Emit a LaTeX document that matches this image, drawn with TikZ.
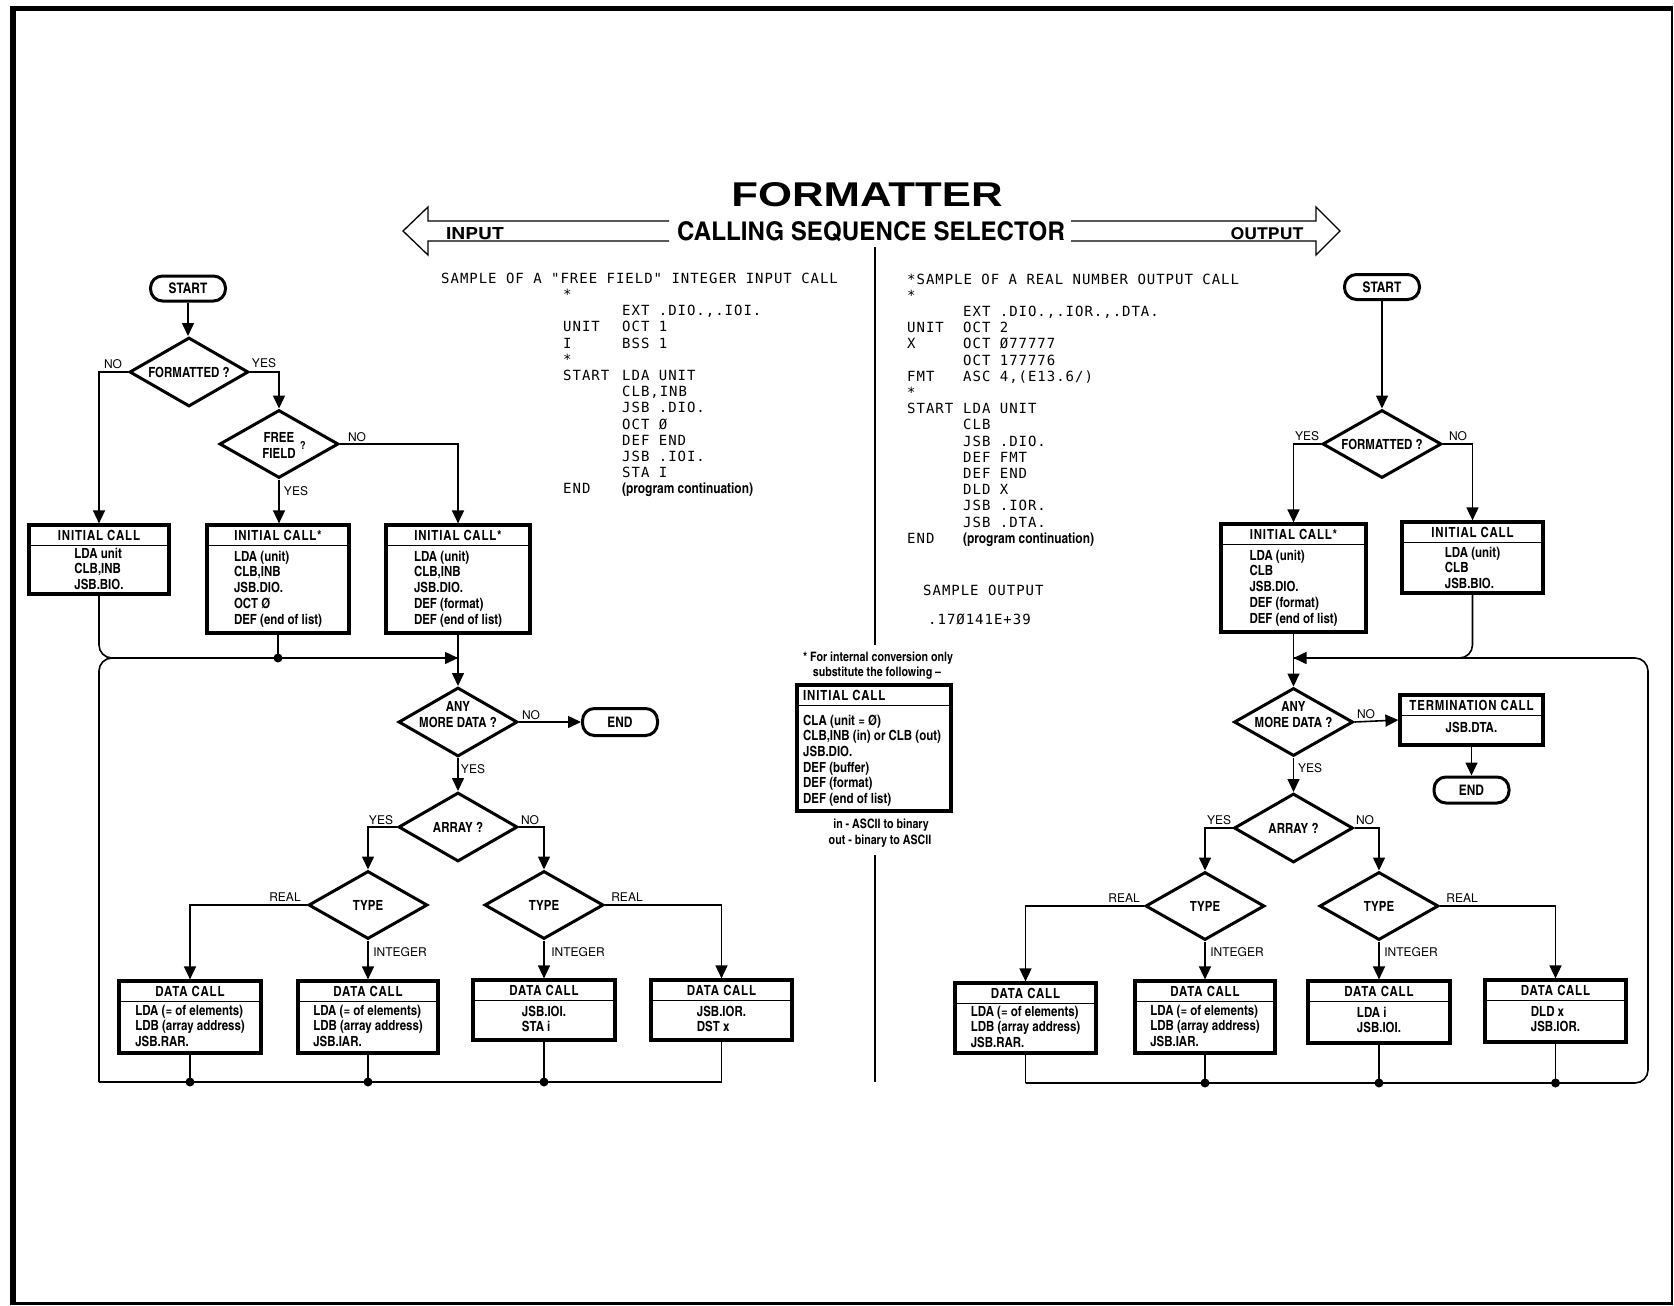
\documentclass[tikz,border=0pt]{standalone}
\usepackage{graphicx}
\usepackage{fontspec}
\usetikzlibrary{shapes.geometric,arrows.meta,fit,calc}
\newfontfamily\cnf{texgyreheroscn}[Extension=.otf,UprightFont=*-regular,BoldFont=*-bold]
\newfontfamily\cnhead{texgyreheroscn}[Extension=.otf,UprightFont=*-bold,LetterSpace=6]
\newfontfamily\hvf{TeX Gyre Heros}
\newfontfamily\monof{DejaVu Sans Mono}[LetterSpace=7]
\newfontfamily\titlef{Liberation Sans}

% call box: name, x1, y1, x2, y2, header, body lines, first baseline offset
\newcommand\callbox[8][35]{%
  \node[cbox, fit={(#3,#4) (#5,#6)}] (#2) {};
  \draw[sep] (#3,{#4+20.5}) -- (#5,{#4+20.5});
  \node[boxhead] (#2-h) at ({(#3+#5)/2},{#4+10.5}) {#7};
  \node[boxbody, anchor=north] (#2-b) at ({(#3+#5)/2},{#4+#1-10.5}) {\rule{0pt}{10.5pt}#8};
}

\begin{document}
\begin{tikzpicture}[x=1pt,y=-1pt,
  cbox/.style={draw,line width=3.2pt,inner sep=0pt},
  sep/.style={line width=1.1pt},
  boxhead/.style={font=\cnhead\fontsize{14}{16}\selectfont,inner sep=0pt},
  boxbody/.style={font=\cnf\bfseries\fontsize{14}{15.7}\selectfont,align=left,inner sep=0pt},
  dia/.style={draw,diamond,line width=3pt,inner sep=0pt,minimum width=119pt,minimum height=69pt},
  dtext/.style={font=\cnf\bfseries\fontsize{14}{16}\selectfont,inner sep=0pt},
  pill/.style={draw,line width=3pt,rounded corners=12pt,minimum width=75pt,minimum height=25pt,inner sep=0pt,font=\cnf\bfseries\fontsize{14.5}{16}\selectfont},
  lab/.style={font=\hvf\fontsize{12}{14}\selectfont,inner sep=0pt},
  note/.style={font=\cnf\bfseries\fontsize{13}{15}\selectfont,inner sep=0pt},
  flow/.style={line width=1.6pt},
  arr/.style={flow,-{Triangle[length=13pt,width=12pt]}},
  dot/.style={circle,fill,inner sep=0pt,minimum size=9pt},
  code/.style={font=\monof\fontsize{14}{16.2}\selectfont,inner sep=0pt},
  outline/.style={line width=1.3pt,line join=miter}
]
\useasboundingbox (0,0) rectangle (1674,1306);
\fill[white] (0,0) rectangle (1674,1306);

% page frame
\draw[line width=6pt] (13,1304) -- (13,6);
\draw[line width=5pt] (10,8.5) -- (1673,8.5);
\draw[line width=2.5pt] (1672,6) -- (1672,1303.5) -- (10,1303.5);

% title and double arrow
\node[inner sep=0pt] (title) at (867,195) {\resizebox{271pt}{24pt}{\titlef\bfseries FORMATTER}};
\node[inner sep=0pt] (subtitle) at (871,231.5) {\resizebox{388pt}{19pt}{\cnf\bfseries CALLING SEQUENCE SELECTOR}};
\node[inner sep=0pt] (inlab) at (475,234) {\resizebox{58pt}{12pt}{\cnf\bfseries INPUT}};
\node[inner sep=0pt] (outlab) at (1267,234) {\resizebox{73pt}{12pt}{\cnf\bfseries OUTPUT}};
\draw[outline] (669,221) -- (428,221) -- (428,207) -- (403,231) -- (428,255) -- (428,241) -- (669,241);
\draw[outline] (1071,221) -- (1316,221) -- (1316,207) -- (1340,231) -- (1316,255) -- (1316,241) -- (1071,241);

% divider
\draw[line width=1.2pt] (875,247) -- (875,645);
\draw[line width=1.2pt] (875,855) -- (875,1082);

% input listing
\node[code,anchor=base west] (capL) at (441,283) {SAMPLE OF A "FREE FIELD" INTEGER INPUT CALL};
\node[code,anchor=north west,align=left] (codeL) at (563,287.2) {\rule{0pt}{12pt}*\\
\hspace*{59pt}EXT .DIO.,.IOI.\\
\makebox[59pt][l]{UNIT}OCT 1\\
\makebox[59pt][l]{I}BSS 1\\
*\\
\makebox[59pt][l]{START}LDA UNIT\\
\hspace*{59pt}CLB,INB\\
\hspace*{59pt}JSB .DIO.\\
\hspace*{59pt}OCT Ø\\
\hspace*{59pt}DEF END\\
\hspace*{59pt}JSB .IOI.\\
\hspace*{59pt}STA I\\
\makebox[59pt][l]{END}{\cnf\bfseries\fontsize{14.5}{16.2}\selectfont (program continuation)}};

% output listing
\node[code,anchor=base west] (capR) at (907,284) {*SAMPLE OF A REAL NUMBER OUTPUT CALL};
\node[code,anchor=north west,align=left] (codeR) at (907,288.1) {\rule{0pt}{12pt}*\\
\hspace*{56pt}EXT .DIO.,.IOR.,.DTA.\\
\makebox[56pt][l]{UNIT}OCT 2\\
\makebox[56pt][l]{X}OCT Ø77777\\
\hspace*{56pt}OCT 177776\\
\makebox[56pt][l]{FMT}ASC 4,(E13.6/)\\
*\\
\makebox[56pt][l]{START}LDA UNIT\\
\hspace*{56pt}CLB\\
\hspace*{56pt}JSB .DIO.\\
\hspace*{56pt}DEF FMT\\
\hspace*{56pt}DEF END\\
\hspace*{56pt}DLD X\\
\hspace*{56pt}JSB .IOR.\\
\hspace*{56pt}JSB .DTA.\\
\makebox[56pt][l]{END}{\cnf\bfseries\fontsize{14.5}{16}\selectfont (program continuation)}};
\node[code,anchor=base west] (sout) at (923,595) {SAMPLE OUTPUT};
\node[code,anchor=base west] (sval) at (928,624) {.17Ø141E+39};

% footnote in the middle
\node[note] (fn1) at (878,658) {* For internal conversion only};
\node[note] (fn2) at (877,673) {substitute the following –};
\node[cbox, fit={(797,685) (951,811)}] (sub) {};
\draw[sep] (797,705.5) -- (951,705.5);
\node[boxhead,anchor=west] (sub-h) at (803,695) {INITIAL CALL};
\node[boxbody,anchor=north west,font=\cnf\bfseries\fontsize{14}{15.6}\selectfont] (sub-b) at (803,714.5) {\rule{0pt}{10.5pt}CLA (unit = Ø)\\CLB,INB (in) or CLB (out)\\JSB.DIO.\\DEF (buffer)\\DEF (format)\\DEF (end of list)};
\node[note] (fn3) at (881,825) {in - ASCII to binary};
\node[note] (fn4) at (880,841) {out - binary to ASCII};

% ---------------- input flow ----------------
\node[pill] (startL) at (188,288.5) {START};
\node[dia, label={[dtext]center:FORMATTED ?}] (fmtL) at (189,372) {};
\node[dia, minimum height=68pt] (freeL) at (279,444) {};
\node[dtext] (freeL-1) at (279,437) {FREE};
\node[dtext] (freeL-2) at (279,453) {FIELD};
\node[dtext,font=\cnf\bfseries\fontsize{11}{12}\selectfont] (freeL-q) at (303,445) {?};

\callbox[33]{icL1}{29}{525}{169}{594}{INITIAL CALL}{LDA unit\\CLB,INB\\JSB.BIO.}
\callbox[36]{icL2}{207}{525}{349}{633}{INITIAL CALL*}{LDA (unit)\\CLB,INB\\JSB.DIO.\\OCT Ø\\DEF (end of list)}
\callbox[36]{icL3}{386}{525}{530}{633}{INITIAL CALL*}{LDA (unit)\\CLB,INB\\JSB.DIO.\\DEF (format)\\DEF (end of list)}

\node[dia] (anyL) at (458,722) {};
\node[dtext,align=center,font=\cnf\bfseries\fontsize{14}{16}\selectfont] (anyL-t) at (458,715) {ANY\\MORE DATA ?};
\node[pill, minimum height=27pt] (endL) at (620,722) {END};
\node[dia, label={[dtext]center:ARRAY ?}] (arrL) at (458,827) {};
\node[dia, minimum height=68pt, label={[dtext]center:TYPE}] (typeL1) at (368,905) {};
\node[dia, minimum height=68pt, label={[dtext]center:TYPE}] (typeL2) at (544,905) {};

\callbox[34]{dcL1}{119}{981}{261}{1053}{DATA CALL}{LDA (= of elements)\\LDB (array address)\\JSB.RAR.}
\callbox[34]{dcL2}{298}{981}{438}{1053}{DATA CALL}{LDA (= of elements)\\LDB (array address)\\JSB.IAR.}
\callbox[36]{dcL3}{473}{980}{615}{1040}{DATA CALL}{JSB.IOI.\\STA i}
\callbox[36]{dcL4}{651}{980}{792}{1040}{DATA CALL}{JSB.IOR.\\DST x}

\coordinate (yj) at (0,658);
\coordinate (ybL) at (0,1082);
\coordinate (ybR) at (0,1083);
\coordinate (jL) at (icL3.south |- yj);
\coordinate (bL1) at (icL1.south |- ybL);

\draw[arr] (startL.south) -- (startL.south |- fmtL.north);
\draw[arr] (fmtL.west) -| (icL1.north);
\draw[arr] (fmtL.east) -| (freeL.north);
\draw[arr] (freeL.south) -- (freeL.south |- icL2.north);
\draw[arr] (freeL.east) -| (icL3.north);
\draw[flow] (dcL4.south) |- (bL1);
\draw[flow,rounded corners=13pt] (bL1) -- (bL1 |- yj) -- (jL);
\draw[arr,rounded corners=13pt] (icL1.south) |- (jL);
\node[dot] (dL0) at (icL2.south |- yj) {};
\draw[flow] (icL2.south) -- (dL0.center);
\draw[arr] (icL3.south) -- (anyL.north);
\draw[arr] (anyL.east) -- (endL.west);
\draw[arr] (anyL.south) -- (arrL.north);
\draw[arr] (arrL.west) -| (typeL1.north);
\draw[arr] (arrL.east) -| (typeL2.north);
\draw[arr] (typeL1.west) -| (dcL1.north);
\draw[arr] (typeL1.south) -- (dcL2.north);
\draw[arr] (typeL2.south) -- (dcL3.north);
\draw[arr] (typeL2.east) -| (dcL4.north);
\node[dot] (dL1) at (dcL1.south |- ybL) {};
\node[dot] (dL2) at (dcL2.south |- ybL) {};
\node[dot] (dL3) at (dcL3.south |- ybL) {};
\draw[flow] (dcL1.south) -- (dL1.center);
\draw[flow] (dcL2.south) -- (dL2.center);
\draw[flow] (dcL3.south) -- (dL3.center);

\node[lab] at (113,364) {NO};
\node[lab] at (264,363) {YES};
\node[lab] at (357,437) {NO};
\node[lab] at (296,491) {YES};
\node[lab] at (531,715) {NO};
\node[lab] at (473,769) {YES};
\node[lab] at (381,820) {YES};
\node[lab] at (530,820) {NO};
\node[lab] at (285,897) {REAL};
\node[lab] at (400,952) {INTEGER};
\node[lab] at (578,952) {INTEGER};
\node[lab] at (627,897) {REAL};

% ---------------- output flow ----------------
\node[pill] (startR) at (1382,287) {START};
\node[dia, minimum height=68pt, label={[dtext]center:FORMATTED ?}] (fmtR) at (1382,444) {};
\callbox[36]{icR1}{1221}{524}{1366}{632}{INITIAL CALL*}{LDA (unit)\\CLB\\JSB.DIO.\\DEF (format)\\DEF (end of list)}
\callbox{icR2}{1402}{522}{1543}{593}{INITIAL CALL}{LDA (unit)\\CLB\\JSB.BIO.}

\node[dia, minimum height=68pt] (anyR) at (1293.5,722) {};
\node[dtext,align=center,font=\cnf\bfseries\fontsize{14}{16}\selectfont] (anyR-t) at (1293.5,715) {ANY\\MORE DATA ?};
\callbox[37]{termR}{1400}{695}{1543}{745}{TERMINATION CALL}{JSB.DTA.}
\node[pill, minimum height=26pt] (endR) at (1471.5,790) {END};
\node[dia, label={[dtext]center:ARRAY ?}] (arrR) at (1293.5,828) {};
\node[dia, minimum height=68pt, label={[dtext]center:TYPE}] (typeR1) at (1205,906) {};
\node[dia, minimum height=68pt, label={[dtext]center:TYPE}] (typeR2) at (1379,906) {};

\callbox[33]{dcR1}{955}{983}{1096}{1053}{DATA CALL}{LDA (= of elements)\\LDB (array address)\\JSB.RAR.}
\callbox[34]{dcR2}{1135}{981}{1275}{1053}{DATA CALL}{LDA (= of elements)\\LDB (array address)\\JSB.IAR.}
\callbox[36]{dcR3}{1308}{981}{1450}{1043}{DATA CALL}{LDA i\\JSB.IOI.}
\callbox[36]{dcR4}{1485}{980}{1626}{1042}{DATA CALL}{DLD x\\JSB.IOR.}

\coordinate (jR) at (icR1.south |- yj);
\coordinate (bR1) at (dcR1.south |- ybR);
\coordinate (cR) at (1648,1083);

\draw[arr] (startR.south) -- (fmtR.north);
\draw[arr] (fmtR.west) -| (icR1.north);
\draw[arr] (fmtR.east) -| (icR2.north);
\draw[arr] (icR1.south) -- (anyR.north);
\draw[flow,rounded corners=13pt] (icR2.south) |- (jR);
\draw[flow] (dcR1.south) -- (bR1);
\draw[arr,rounded corners=13pt] (bR1) -- (cR) -- (cR |- yj) -- (jR);
\draw[arr] (anyR.east) -- (termR.west);
\draw[arr] (termR.south) -- (endR.north);
\draw[arr] (anyR.south) -- (arrR.north);
\draw[arr] (arrR.west) -| (typeR1.north);
\draw[arr] (arrR.east) -| (typeR2.north);
\draw[arr] (typeR1.west) -| (dcR1.north);
\draw[arr] (typeR1.south) -- (dcR2.north);
\draw[arr] (typeR2.south) -- (dcR3.north);
\draw[arr] (typeR2.east) -| (dcR4.north);
\node[dot] (dR2) at (dcR2.south |- ybR) {};
\node[dot] (dR3) at (dcR3.south |- ybR) {};
\node[dot] (dR4) at (dcR4.south |- ybR) {};
\draw[flow] (dcR2.south) -- (dR2.center);
\draw[flow] (dcR3.south) -- (dR3.center);
\draw[flow] (dcR4.south) -- (dR4.center);

\node[lab] at (1307,436) {YES};
\node[lab] at (1458,436) {NO};
\node[lab] at (1366,714) {NO};
\node[lab] at (1310,768) {YES};
\node[lab] at (1219,820) {YES};
\node[lab] at (1365,820) {NO};
\node[lab] at (1124,898) {REAL};
\node[lab] at (1237,952) {INTEGER};
\node[lab] at (1411,952) {INTEGER};
\node[lab] at (1462,898) {REAL};
\end{tikzpicture}
\end{document}
